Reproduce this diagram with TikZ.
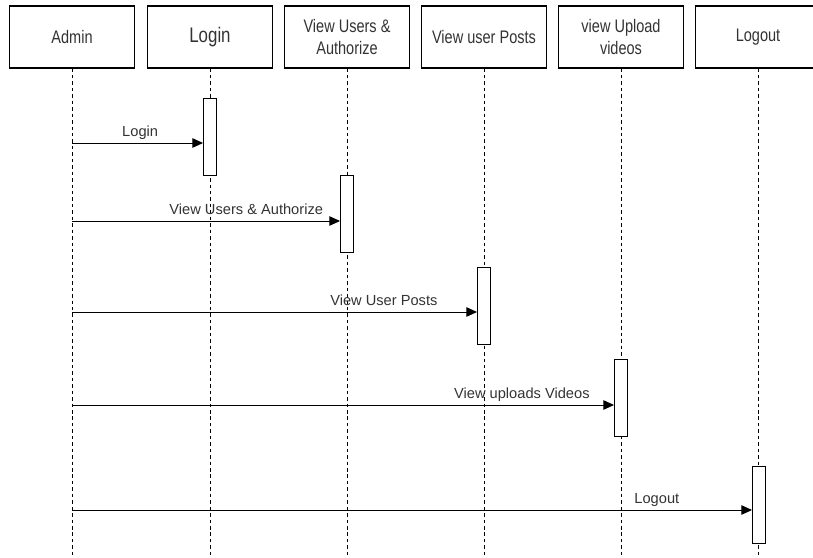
\documentclass[tikz,border=0pt]{standalone}
\usepackage{fontspec}
\setmainfont{Liberation Sans}
\newfontfamily\headfont[FakeStretch=0.8]{Liberation Sans}
\usetikzlibrary{arrows.meta}

\begin{document}
\begin{tikzpicture}[x=0.03cm, y=-0.03cm, >={Triangle[length=9pt,width=8pt]},
  head/.style={draw, line width=0.9pt, minimum width=3.75cm, minimum height=1.86cm,
    align=center, text=black!80, font=\headfont\fontsize{15.5}{19}\selectfont},
  life/.style={dash pattern=on 3pt off 2.5pt, line width=0.6pt},
  act/.style={draw, fill=white, line width=0.8pt, minimum width=0.39cm,
    minimum height=2.31cm, inner sep=0pt},
  msg/.style={->, line width=0.8pt},
  lbl/.style={anchor=base, yshift=5.5pt, text=black!80,
    font=\fontsize{12.5}{15}\selectfont}]

\useasboundingbox (0,0) rectangle (813,557);

% lifeline heads
\node[head] (admin) at (72,37) {Admin};
\node[head, font=\headfont\fontsize{18}{21}\selectfont] (login) at (210,37) {Login};
\node[head] (users) at (347,37) {View Users \&\\Authorize};
\node[head] (posts) at (484,37) {View user Posts};
\node[head] (videos) at (621,37) {view Upload\\videos};
\node[head] (logout) at (758,37) {Logout};

\coordinate (bottom) at (0,557);
\foreach \n in {admin,login,users,posts,videos,logout}
  \draw[life] (\n.south) -- (\n.south |- bottom);

% activations
\node[act] (act1) at (210,137) {};
\node[act] (act2) at (347,214) {};
\node[act] (act3) at (484,305.5) {};
\node[act] (act4) at (621,397.5) {};
\node[act] (act5) at (759,505) {};

% messages
\coordinate (m1) at (72,143);
\coordinate (m2) at (72,221);
\coordinate (m3) at (72,312);
\coordinate (m4) at (72,405);
\coordinate (m5) at (72,510);

\draw[msg] (m1) -- node[lbl, pos=0.52] {Login} (m1 -| act1.west);
\draw[msg] (m2) -- node[lbl, pos=0.65] {View Users \& Authorize} (m2 -| act2.west);
\draw[msg] (m3) -- node[lbl, pos=0.77] {View User Posts} (m3 -| act3.west);
\draw[msg] (m4) -- node[lbl, pos=0.83] {View uploads Videos} (m4 -| act4.west);
\draw[msg] (m5) -- node[lbl, pos=0.86] {Logout} (m5 -| act5.west);

\end{tikzpicture}
\end{document}
